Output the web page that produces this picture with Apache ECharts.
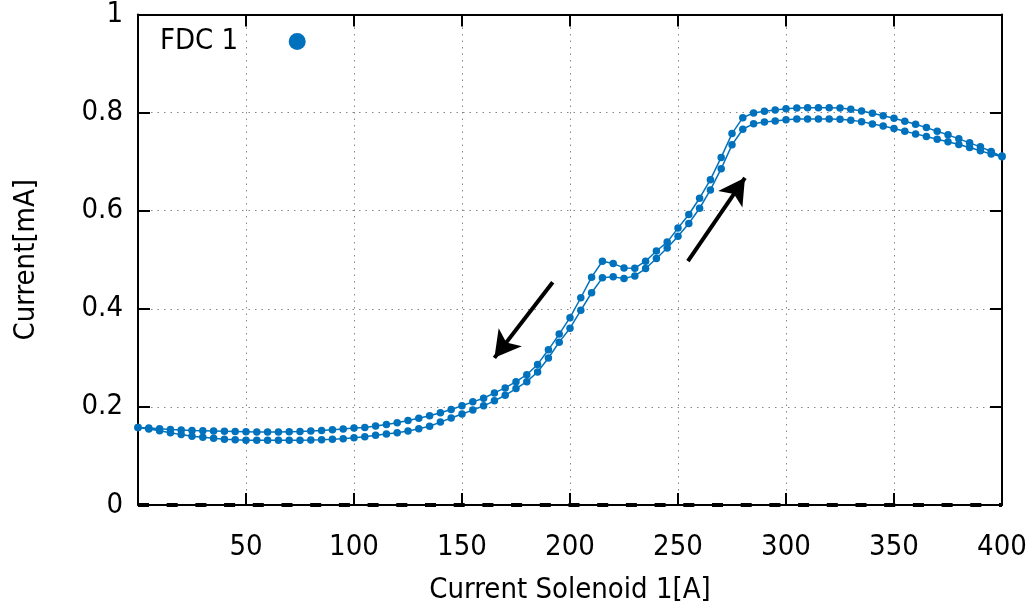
<!DOCTYPE html>
<html>
<head>
<meta charset="utf-8">
<script src="https://cdn.jsdelivr.net/npm/echarts@6/dist/echarts.min.js"></script>
<style>
html,body{margin:0;padding:0;background:#fff;}
#chart{width:1034px;height:610px;}
</style>
</head>
<body>
<div id="chart"></div>
<script>
// Solenoid current [A] (x positions of measured points)
const current = [0,5,10,15,20,25,30,35,40,45,50,55,60,65,70,75,80,85,90,95,100,105,110,115,120,125,130,135,140,145,150,155,160,165,170,175,180,185,190,195,200,205,210,215,220,225,230,235,240,245,250,255,260,265,270,275,280,285,290,295,300,305,310,315,320,325,330,335,340,345,350,355,360,365,370,375,380,385,390,395,400];
// FDC 1 current [mA], ramp up (lower branch)
const fdcRampUp = [0.158,0.155,0.1515,0.1475,0.1435,0.140,0.138,0.136,0.134,0.1328,0.1322,0.132,0.1318,0.1318,0.132,0.1322,0.1325,0.133,0.134,0.1352,0.1372,0.1393,0.142,0.1447,0.1474,0.1508,0.1555,0.1605,0.169,0.1775,0.1855,0.1935,0.2022,0.2123,0.2237,0.2373,0.2515,0.2712,0.2996,0.332,0.3604,0.3969,0.4327,0.4631,0.4651,0.4618,0.4671,0.4821,0.5024,0.524,0.548,0.574,0.605,0.6423,0.6856,0.7343,0.766,0.7775,0.7809,0.783,0.7856,0.7867,0.787,0.787,0.787,0.7864,0.7843,0.7816,0.7769,0.7728,0.7674,0.762,0.7566,0.7512,0.7458,0.7404,0.735,0.7289,0.7221,0.7154,0.710];
// FDC 1 current [mA], ramp down (upper branch), listed by ascending solenoid current
const fdcRampDown = [0.158,0.157,0.1555,0.154,0.153,0.152,0.1515,0.151,0.1505,0.150,0.1495,0.149,0.149,0.149,0.1495,0.150,0.1508,0.152,0.1535,0.155,0.1568,0.158,0.161,0.1643,0.1677,0.1724,0.177,0.182,0.188,0.1947,0.2022,0.2103,0.2177,0.2285,0.2387,0.2515,0.2657,0.2866,0.3164,0.3485,0.382,0.4225,0.4645,0.497,0.4922,0.4834,0.4827,0.497,0.5179,0.536,0.5645,0.5923,0.6254,0.6633,0.7086,0.7572,0.7897,0.7992,0.8026,0.8053,0.8079,0.8093,0.810,0.810,0.810,0.8093,0.8066,0.8032,0.7985,0.7937,0.7884,0.7823,0.7762,0.7694,0.762,0.7546,0.7465,0.7383,0.7302,0.7207,0.7113];
// Direction arrows (annotation, in data coordinates: [from, to])
const arrowDown = [[192, 0.454], [165, 0.300]];
const arrowUp = [[254.6, 0.497], [281, 0.667]];
const xTicks = {min: 0, max: 400, interval: 50};
const yTicks = {min: 0, max: 1, interval: 0.2};

const seriesData = current.map((x, i) => [x, fdcRampUp[i]])
  .concat(current.slice().reverse().map((x, i) => [x, fdcRampDown[current.length - 1 - i]]));

const FONT = "'DejaVu Sans Condensed', 'DejaVu Sans', sans-serif";
const FS = 29;
const BLUE = '#0072bd';
const chart = echarts.init(document.getElementById('chart'), null, {renderer: 'canvas'});

const tickStyle = {show: true, inside: true, length: 12, lineStyle: {color: '#000', width: 2}};
const axisLine = {show: true, onZero: false, lineStyle: {color: '#000', width: 2}};
const gridLine = {show: true, lineStyle: {color: '#888', width: 1, type: [1.5, 5]}};

chart.setOption({
  animation: false,
  backgroundColor: '#fff',
  grid: {left: 138, right: 32, top: 12, bottom: 105, containLabel: false},
  legend: {
    show: true,
    left: 160, top: 27, padding: 0,
    align: 'right',
    itemWidth: 108, itemHeight: 17,
    symbolKeepAspect: true,
    icon: 'circle',
    textStyle: {fontFamily: FONT, fontSize: FS, color: '#000'},
    data: [{name: 'FDC 1', icon: 'circle'}]
  },
  xAxis: [{
    type: 'value', position: 'bottom',
    min: xTicks.min, max: xTicks.max, interval: xTicks.interval,
    name: 'Current Solenoid 1[A]', nameLocation: 'middle', nameGap: 71,
    nameTextStyle: {fontFamily: FONT, fontSize: FS, color: '#000'},
    axisLine: axisLine, axisTick: tickStyle,
    axisLabel: {fontFamily: FONT, fontSize: FS, color: '#000', margin: 28,
      formatter: v => v === 0 ? '' : String(v)},
    splitLine: gridLine
  }, {
    type: 'value', position: 'top',
    min: xTicks.min, max: xTicks.max, interval: xTicks.interval,
    axisLine: axisLine, axisTick: tickStyle,
    axisLabel: {show: false}, splitLine: {show: false}
  }],
  yAxis: [{
    type: 'value', position: 'left',
    min: yTicks.min, max: yTicks.max, interval: yTicks.interval,
    name: 'Current[mA]', nameLocation: 'middle', nameGap: 97, nameRotate: 90,
    nameTextStyle: {fontFamily: FONT, fontSize: FS, color: '#000'},
    axisLine: axisLine, axisTick: tickStyle,
    axisLabel: {fontFamily: FONT, fontSize: FS, color: '#000', margin: 15},
    splitLine: gridLine
  }, {
    type: 'value', position: 'right',
    min: yTicks.min, max: yTicks.max, interval: yTicks.interval,
    axisLine: axisLine, axisTick: tickStyle,
    axisLabel: {show: false}, splitLine: {show: false}
  }],
  series: [{
    name: 'FDC 1',
    type: 'line',
    xAxisIndex: 0, yAxisIndex: 0,
    data: seriesData,
    color: BLUE,
    symbol: 'circle', symbolSize: 7.5,
    showSymbol: true,
    lineStyle: {color: BLUE, width: 1.5},
    itemStyle: {color: BLUE},
    emphasis: {disabled: true},
    z: 3,
    markLine: {
      silent: true,
      animation: false,
      label: {show: false},
      emphasis: {disabled: true},
      data: [
        [{coord: arrowDown[0], symbol: 'none'}, {coord: arrowDown[1], symbol: 'arrow', symbolSize: [22, 26]}],
        [{coord: arrowUp[0], symbol: 'none'}, {coord: arrowUp[1], symbol: 'arrow', symbolSize: [22, 26]}],
        [{coord: [xTicks.min, 0], symbol: 'none', lineStyle: {type: [11, 17.7], width: 4, color: '#000'}},
         {coord: [xTicks.max, 0], symbol: 'none'}]
      ],
      lineStyle: {color: '#000', width: 4, type: 'solid'}
    }
  }]
});
</script>
</body>
</html>
